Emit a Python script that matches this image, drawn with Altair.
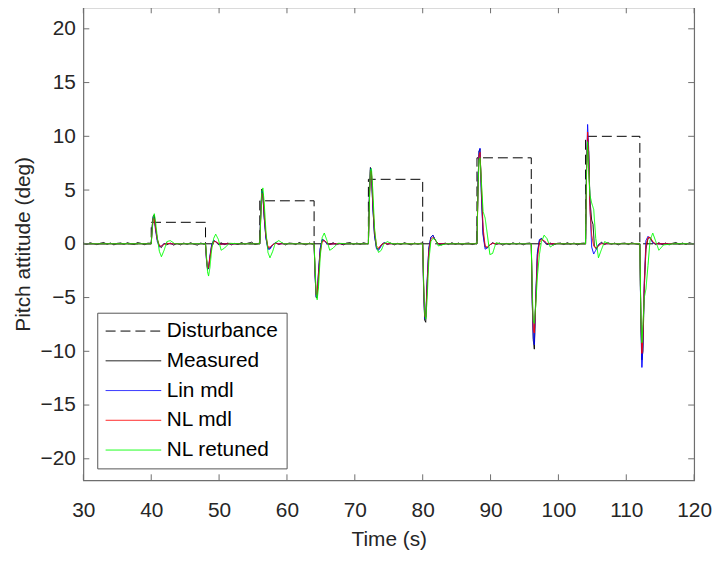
import altair as alt
import pandas as pd

# ---------------- data ----------------
series_names = ["Disturbance", "Measured", "Lin mdl", "NL mdl", "NL retuned"]
series_colors = ["#000000", "#000000", "#0000ff", "#ff0000", "#00ff00"]
series_dashes = [[10, 5], [1, 0], [1, 0], [1, 0], [1, 0]]

x_ticks = [30, 40, 50, 60, 70, 80, 90, 100, 110, 120]
y_ticks = [-20, -15, -10, -5, 0, 5, 10, 15, 20]

# disturbance (square pulses)
dist_t = [30, 40, 40, 48, 48, 56, 56, 64, 64, 72, 72, 80, 80, 88, 88, 96, 96,
          104, 104, 112, 112, 120]
dist_v = [0, 0, 2, 2, 0, 0, 4, 4, 0, 0, 6, 6, 0, 0, 8, 8, 0, 0, 10, 10, 0, 0]

# time grid shared by the three model responses
model_t = [30,
           40, 40.15, 40.3, 40.45, 40.65, 40.9, 41.2, 41.5, 41.9, 42.3, 42.8, 43.5, 45,
           48, 48.15, 48.3, 48.45, 48.65, 48.9, 49.2, 49.5, 49.9, 50.3, 50.8, 51.5, 53,
           56, 56.15, 56.3, 56.45, 56.65, 56.9, 57.2, 57.5, 57.9, 58.3, 58.8, 59.5, 61,
           64, 64.15, 64.3, 64.45, 64.65, 64.9, 65.2, 65.5, 65.9, 66.3, 66.8, 67.5, 69,
           72, 72.15, 72.3, 72.45, 72.65, 72.9, 73.2, 73.5, 73.9, 74.3, 74.8, 75.5, 77,
           80, 80.15, 80.3, 80.45, 80.65, 80.9, 81.2, 81.5, 81.9, 82.3, 82.8, 83.5, 85,
           88, 88.15, 88.3, 88.45, 88.65, 88.9, 89.2, 89.5, 89.9, 90.3, 90.8, 91.5, 93,
           96, 96.15, 96.3, 96.45, 96.65, 96.9, 97.2, 97.5, 97.9, 98.3, 98.8, 99.5, 101,
           104, 104.15, 104.3, 104.45, 104.65, 104.9, 105.2, 105.5, 105.9, 106.3, 106.8, 107.5, 109,
           112, 112.15, 112.3, 112.45, 112.65, 112.9, 113.2, 113.5, 113.9, 114.3, 114.8, 115.5, 117,
           120]

lin_mdl = [0,
           0, 1.6, 2.5, 2.3, 1.2, 0.2, -0.3, -0.2, 0.0, 0.05, 0, 0, 0,
           0, -1.6, -2.4, -2.2, -1.1, -0.1, 0.3, 0.2, 0.0, -0.05, 0, 0, 0,
           0, 3.0, 4.9, 4.5, 2.4, 0.5, -0.5, -0.5, -0.1, 0.1, 0, 0, 0,
           0, -3.0, -4.9, -4.8, -2.6, -0.4, 0.4, 0.3, 0.0, -0.05, 0, 0, 0,
           0, 4.5, 7.0, 6.5, 3.5, 0.8, -0.5, -0.6, -0.2, 0.1, 0, 0, 0,
           0, -4.5, -7.0, -6.8, -3.5, -0.4, 0.6, 0.8, 0.3, 0.0, 0, 0, 0,
           0, 5.5, 8.6, 8.9, 4.5, 0.8, -0.5, -0.4, -0.1, 0.05, 0, 0, 0,
           0, -5.5, -8.8, -9.4, -5.0, -0.8, 0.4, 0.5, 0.2, 0.0, 0, 0, 0,
           0, 7.5, 11.1, 9.0, 3.5, -0.3, -0.95, -0.6, -0.1, 0.05, 0, 0, 0,
           0, -7.5, -11.5, -9.5, -3.5, 0.3, 0.7, 0.5, 0.1, 0.0, 0, 0, 0,
           0]

nl_mdl = [0,
          0, 1.4, 2.4, 2.3, 1.4, 0.4, -0.2, -0.2, -0.05, 0.05, 0, 0, 0,
          0, -1.4, -2.3, -2.2, -1.3, -0.3, 0.2, 0.2, 0.05, -0.05, 0, 0, 0,
          0, 2.6, 4.7, 4.6, 2.8, 0.8, -0.3, -0.3, -0.1, 0.05, 0, 0, 0,
          0, -2.6, -4.7, -4.8, -3.0, -0.8, 0.2, 0.3, 0.1, -0.05, 0, 0, 0,
          0, 4.0, 6.8, 6.7, 4.0, 1.2, -0.2, -0.4, -0.1, 0.05, 0, 0, 0,
          0, -4.0, -6.8, -6.9, -4.0, -0.8, 0.4, 0.6, 0.3, 0.0, 0, 0, 0,
          0, 5.0, 8.2, 8.5, 5.5, 1.5, -0.2, -0.3, -0.1, 0.05, 0, 0, 0,
          0, -5.0, -8.0, -8.3, -5.5, -1.5, 0.1, 0.4, 0.3, 0.05, 0, 0, 0,
          0, 6.8, 10.4, 8.5, 3.2, 0.8, -0.2, -0.4, -0.2, 0.0, 0, 0, 0,
          0, -6.8, -10.2, -8.8, -3.8, -0.2, 0.6, 0.6, 0.2, 0.0, 0, 0, 0,
          0]

nl_retuned = [0,
              0, 1.3, 2.4, 2.8, 2.0, 0.6, -0.7, -1.2, -0.6, 0.2, 0.3, 0.0, 0,
              0, -1.2, -2.6, -3.0, -2.2, -0.6, 0.5, 0.9, 0.4, -0.6, -0.4, 0.05, 0,
              0, 2.6, 4.8, 5.2, 3.8, 1.2, -0.8, -1.3, -0.7, 0.1, 0.3, 0, 0,
              0, -2.4, -4.6, -5.2, -4.0, -1.2, 0.6, 1.0, 0.3, -0.6, -0.4, 0.05, 0,
              0, 4.0, 6.9, 7.0, 5.0, 1.5, -0.3, -0.8, -0.6, 0.0, 0.2, 0, 0,
              0, -3.8, -6.5, -7.0, -5.2, -1.6, 0.2, 0.5, 0.4, -0.2, -0.1, 0, 0,
              0, 5.0, 7.8, 8.0, 5.8, 3.0, 2.4, 1.0, -1.0, -0.9, 0.1, 0, 0,
              0, -4.5, -7.2, -7.4, -5.8, -3.0, -1.0, 0.2, 0.8, 0.5, -0.3, 0, 0,
              0, 7.0, 9.5, 7.0, 4.5, 3.8, 3.2, 0.5, -1.3, -0.6, 0.2, 0, 0,
              0, -7.0, -9.2, -7.5, -5.0, -4.2, -2.0, 0.3, 1.0, 0.3, -0.6, -0.1, 0,
              0]

# measured response (own, noisier sampling)
meas_t = [30, 30.5, 31, 31.5, 32, 32.5, 33, 33.5, 34, 34.5, 35, 35.5, 36, 36.5, 37, 37.5, 38, 38.5, 39, 39.5,
          40, 40.15, 40.3, 40.45, 40.65, 40.9, 41.2, 41.5, 41.9, 42.3, 42.8, 43.3, 43.8, 44.3, 44.8, 45.3, 45.8, 46.3, 46.8, 47.3, 47.8,
          48, 48.15, 48.3, 48.45, 48.65, 48.9, 49.2, 49.5, 49.9, 50.3, 50.8, 51.3, 51.8, 52.3, 52.8, 53.3, 53.8, 54.3, 54.8, 55.3, 55.8,
          56, 56.15, 56.3, 56.45, 56.65, 56.9, 57.2, 57.5, 57.9, 58.3, 58.8, 59.3, 59.8, 60.3, 60.8, 61.3, 61.8, 62.3, 62.8, 63.3, 63.8,
          64, 64.15, 64.3, 64.45, 64.65, 64.9, 65.2, 65.5, 65.9, 66.3, 66.8, 67.3, 67.8, 68.3, 68.8, 69.3, 69.8, 70.3, 70.8, 71.3, 71.8,
          72, 72.15, 72.3, 72.45, 72.65, 72.9, 73.2, 73.5, 73.9, 74.3, 74.8, 75.3, 75.8, 76.3, 76.8, 77.3, 77.8, 78.3, 78.8, 79.3, 79.8,
          80, 80.15, 80.3, 80.45, 80.65, 80.9, 81.2, 81.5, 81.9, 82.3, 82.8, 83.3, 83.8, 84.3, 84.8, 85.3, 85.8, 86.3, 86.8, 87.3, 87.8,
          88, 88.15, 88.3, 88.45, 88.65, 88.9, 89.2, 89.5, 89.9, 90.3, 90.8, 91.3, 91.8, 92.3, 92.8, 93.3, 93.8, 94.3, 94.8, 95.3, 95.8,
          96, 96.15, 96.3, 96.45, 96.65, 96.9, 97.2, 97.5, 97.9, 98.3, 98.8, 99.3, 99.8, 100.3, 100.8, 101.3, 101.8, 102.3, 102.8, 103.3, 103.8,
          104, 104.15, 104.3, 104.45, 104.65, 104.9, 105.1, 105.3, 105.6, 105.9, 106.3, 106.8, 107.3, 107.8, 108.3, 108.8, 109.3, 109.8, 110.3, 110.8, 111.3, 111.8,
          112, 112.15, 112.3, 112.45, 112.65, 112.9, 113.2, 113.5, 113.9, 114.3, 114.8, 115.3, 115.8, 116.3, 116.8, 117.3, 117.8, 118.3, 118.8, 119.3, 119.8, 120]
meas_v = [0.08, -0.06, 0.1, 0, -0.08, 0.05, 0.12, -0.04, 0.07, -0.1, 0.04, 0.08, -0.06, 0.1, 0, -0.07, 0.12, 0.04, -0.08, 0.06,
          0.05, 1.7, 2.6, 2.7, 1.5, 0.4, -0.2, -0.35, 0.05, -0.1, 0.07, -0.12, 0.04, -0.1, 0.07, -0.06, 0.1, -0.04, -0.12, 0.07, -0.04,
          0, -1.5, -2.3, -2.3, -1.3, -0.2, 0.3, 0.2, -0.08, 0.1, -0.07, 0.07, -0.1, 0.04, -0.07, 0.12, -0.04, 0.07, 0.15, -0.07, 0.04,
          0, 3.2, 5.1, 4.6, 2.5, 0.6, -0.4, -0.4, -0.1, 0.1, -0.07, 0.07, -0.1, 0.07, 0.04, -0.07, 0.12, 0, -0.1, 0.07, -0.04,
          0.04, -3.0, -5.0, -5.0, -2.7, -0.5, 0.4, 0.3, 0.05, -0.07, 0.1, -0.07, 0.04, -0.1, 0.07, 0.12, -0.07, 0.07, -0.04, 0.1, 0,
          0, 4.6, 7.1, 6.6, 3.5, 0.8, -0.4, -0.5, -0.1, 0.1, -0.07, 0.07, -0.1, 0.04, -0.07, 0.1, 0, -0.1, 0.07, -0.04, 0.07,
          0, -4.6, -7.1, -7.3, -3.8, -0.5, 0.6, 0.8, 0.3, 0.0, -0.1, 0.07, -0.07, 0.1, -0.04, 0.07, -0.1, 0.04, 0.07, -0.07, 0.04,
          0, 5.6, 8.6, 8.8, 4.8, 1.0, -0.3, -0.4, -0.1, 0.1, -0.07, 0.07, -0.12, 0.04, -0.07, 0.1, -0.04, 0.07, -0.1, 0.04, 0.07,
          0, -5.6, -9.0, -9.8, -5.5, -1.0, 0.3, 0.5, 0.2, -0.07, 0.07, -0.1, 0.04, 0.07, -0.07, 0.1, -0.04, 0.07, -0.1, 0.04, 0.07,
          0, 7.0, 9.8, 8.6, 4.0, 2.2, 1.8, -0.2, -0.5, -0.1, 0.15, -0.07, 0.1, -0.04, 0.07, -0.1, 0.04, 0.07, -0.07, 0.1, 0, -0.07,
          0, -7.2, -10.8, -10.0, -4.2, -0.5, 0.5, 0.6, 0.15, -0.07, 0.1, -0.07, 0.07, -0.1, 0.04, 0.12, -0.04, 0.07, -0.07, 0.1, 0, 0.04]

# ---------------- build long table ----------------
rows = []
for name, ts, vs in [("Disturbance", dist_t, dist_v),
                     ("Measured", meas_t, meas_v),
                     ("Lin mdl", model_t, lin_mdl),
                     ("NL mdl", model_t, nl_mdl),
                     ("NL retuned", model_t, nl_retuned)]:
    for i, (t, v) in enumerate(zip(ts, vs)):
        rows.append({"t": t, "v": v, "series": name, "idx": i})
df = pd.DataFrame(rows)

W, H = 616, 477
FONT = "Liberation Sans"
FS = 21
TXT = "#262626"
FRAME = "#6e6e6e"

xscale = alt.Scale(domain=[30, 120], nice=False, zero=False)
yscale = alt.Scale(domain=[-22, 22], nice=False, zero=False)

legend = alt.Legend(
    title=None, orient="none", legendX=14, legendY=308,
    symbolType="M-10,0H46", symbolSize=4, symbolStrokeWidth=1,
    labelFontSize=FS, labelFont=FONT, labelColor="#000000",
    labelOffset=41, rowPadding=8, padding=8,
    fillColor="#ffffff", strokeColor="#555555",
)

lines = alt.Chart(df).mark_line(strokeWidth=1, clip=True).encode(
    x=alt.X("t:Q", scale=xscale,
            axis=alt.Axis(values=x_ticks, title="Time (s)", tickSize=0, domain=False, grid=False,
                          labelFontSize=FS, labelFont=FONT, labelColor=TXT, labelPadding=20,
                          titleFontSize=FS, titleFont=FONT, titleColor=TXT, titleFontWeight="normal",
                          titlePadding=8, labelFlush=False)),
    y=alt.Y("v:Q", scale=yscale,
            axis=alt.Axis(values=y_ticks, title="Pitch attitude (deg)", tickSize=0, domain=False, grid=False,
                          labelFontSize=FS, labelFont=FONT, labelColor=TXT, labelPadding=8,
                          titleFontSize=FS, titleFont=FONT, titleColor=TXT, titleFontWeight="normal",
                          titlePadding=7)),
    color=alt.Color("series:N", scale=alt.Scale(domain=series_names, range=series_colors), legend=legend),
    strokeDash=alt.StrokeDash("series:N", scale=alt.Scale(domain=series_names, range=series_dashes), legend=legend),
    order="idx:Q",
)

ytick_df = pd.DataFrame({"yt": y_ticks})
xtick_df = pd.DataFrame({"xt": x_ticks})
ytl = alt.Chart(ytick_df).mark_rule(color=FRAME, strokeWidth=1).encode(
    y=alt.Y("yt:Q", scale=yscale), x=alt.value(0), x2=alt.value(6))
ytr = alt.Chart(ytick_df).mark_rule(color=FRAME, strokeWidth=1).encode(
    y=alt.Y("yt:Q", scale=yscale), x=alt.value(W - 6), x2=alt.value(W))
xtb = alt.Chart(xtick_df).mark_rule(color=FRAME, strokeWidth=1).encode(
    x=alt.X("xt:Q", scale=xscale), y=alt.value(H - 6), y2=alt.value(H))
xtt = alt.Chart(xtick_df).mark_rule(color=FRAME, strokeWidth=1).encode(
    x=alt.X("xt:Q", scale=xscale), y=alt.value(0), y2=alt.value(6))

chart = alt.layer(lines, ytl, ytr, xtb, xtt).properties(
    width=W, height=H,
    padding={"top": -4, "left": 4, "right": 0, "bottom": 0},
    background="#ffffff",
).configure_view(stroke=FRAME, strokeWidth=1.2)

chart.save("out.html", embed_options={"renderer": "svg", "actions": False})
